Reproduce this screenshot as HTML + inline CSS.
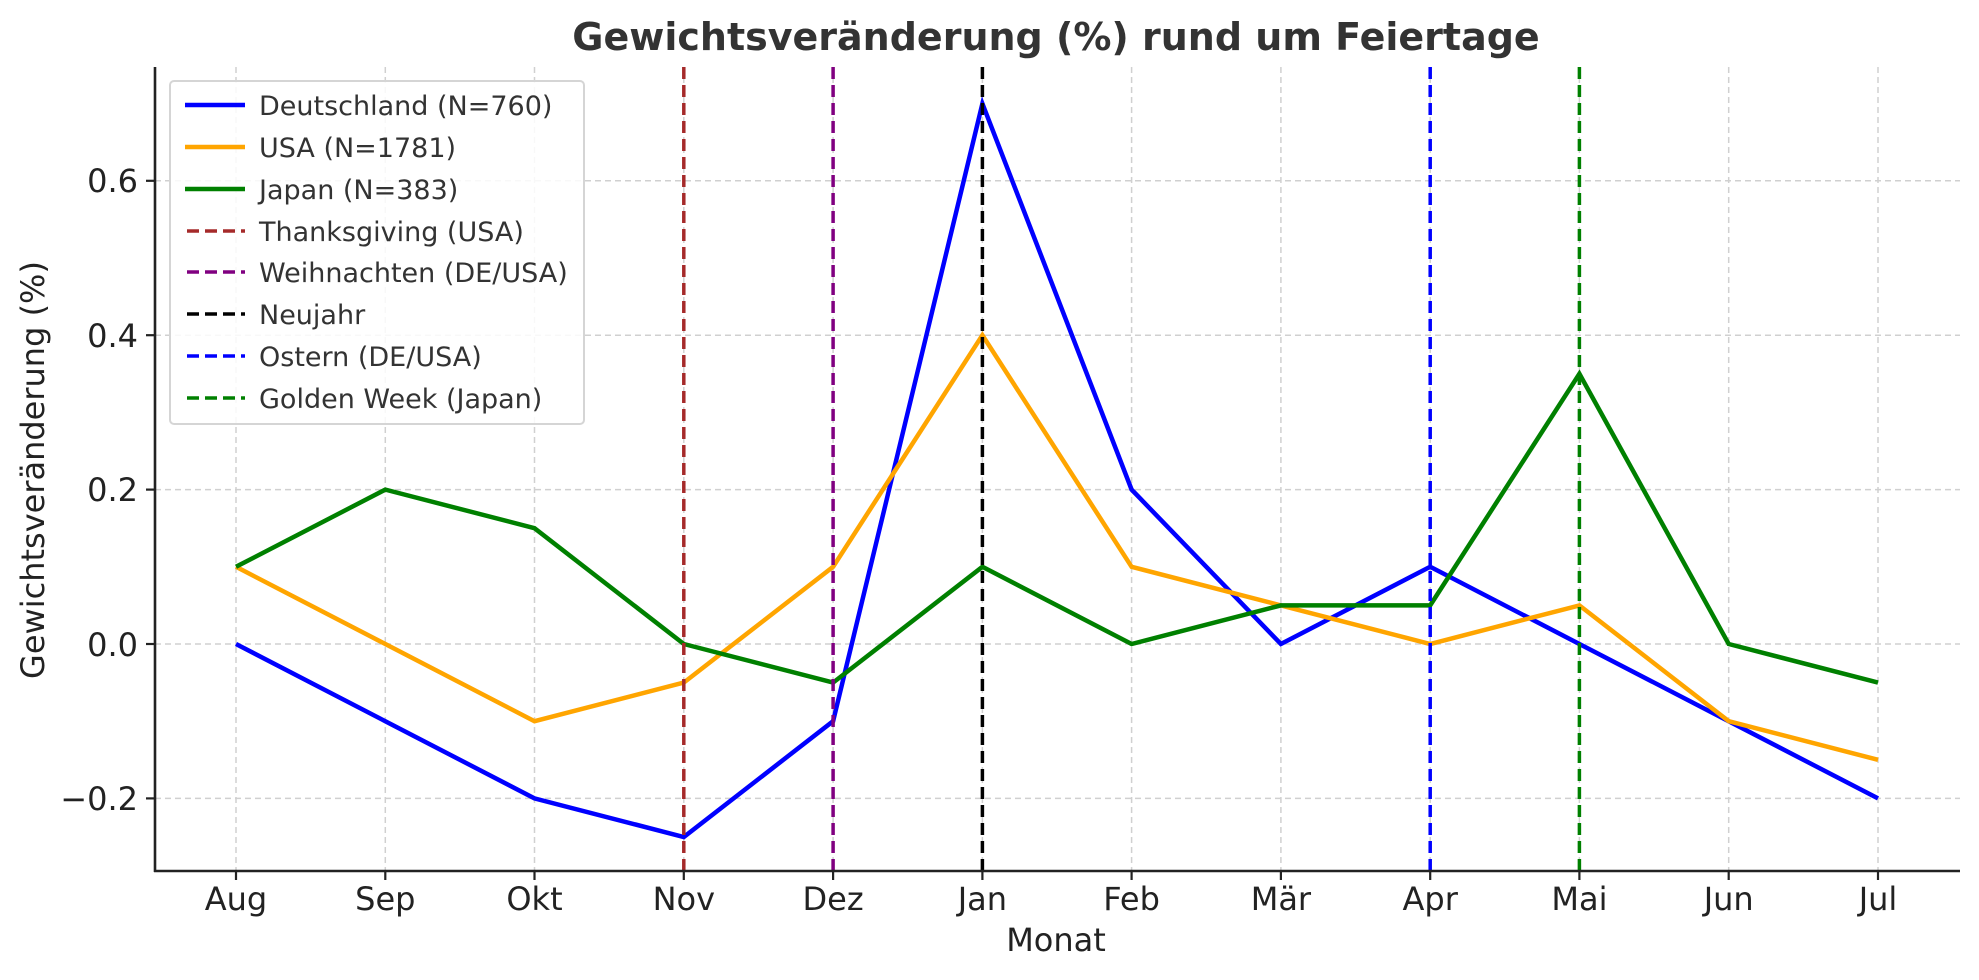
<!DOCTYPE html>
<html><head><meta charset="utf-8"><style>
html,body{margin:0;padding:0;background:#fff;}
svg{display:block;font-family:"DejaVu Sans","Liberation Sans",sans-serif;}
</style></head><body>
<svg width="1979" height="980" viewBox="0 0 1979 980" xmlns="http://www.w3.org/2000/svg">
<rect width="1979" height="980" fill="#fff"/>
<g stroke="#d0d0d0" stroke-width="1.5" stroke-dasharray="6,4">
<line x1="236" y1="67" x2="236" y2="871"/><line x1="385.3" y1="67" x2="385.3" y2="871"/><line x1="534.5" y1="67" x2="534.5" y2="871"/><line x1="683.8" y1="67" x2="683.8" y2="871"/><line x1="833.1" y1="67" x2="833.1" y2="871"/><line x1="982.4" y1="67" x2="982.4" y2="871"/><line x1="1131.6" y1="67" x2="1131.6" y2="871"/><line x1="1280.9" y1="67" x2="1280.9" y2="871"/><line x1="1430.2" y1="67" x2="1430.2" y2="871"/><line x1="1579.4" y1="67" x2="1579.4" y2="871"/><line x1="1728.7" y1="67" x2="1728.7" y2="871"/><line x1="1878" y1="67" x2="1878" y2="871"/>
<line x1="155" y1="798.4" x2="1960" y2="798.4"/><line x1="155" y1="644" x2="1960" y2="644"/><line x1="155" y1="489.6" x2="1960" y2="489.6"/><line x1="155" y1="335.2" x2="1960" y2="335.2"/><line x1="155" y1="180.8" x2="1960" y2="180.8"/>
</g>
<g fill="none" stroke-width="4.5" stroke-linejoin="miter">
<polyline stroke="#0000ff" points="236,644 385.3,721.2 534.5,798.4 683.8,837 833.1,721.2 982.4,103.6 1131.6,489.6 1280.9,644 1430.2,566.8 1579.4,644 1728.7,721.2 1878,798.4"/>
<polyline stroke="#ffa500" points="236,566.8 385.3,644 534.5,721.2 683.8,682.6 833.1,566.8 982.4,335.2 1131.6,566.8 1280.9,605.4 1430.2,644 1579.4,605.4 1728.7,721.2 1878,759.8"/>
<polyline stroke="#008000" points="236,566.8 385.3,489.6 534.5,528.2 683.8,644 833.1,682.6 982.4,566.8 1131.6,644 1280.9,605.4 1430.2,605.4 1579.4,373.8 1728.7,644 1878,682.6"/>
</g>
<g stroke-width="3.5" stroke-dasharray="12,6">
<line x1="683.8" y1="67" x2="683.8" y2="871" stroke="#a52a2a"/>
<line x1="833.1" y1="67" x2="833.1" y2="871" stroke="#800080"/>
<line x1="982.4" y1="67" x2="982.4" y2="871" stroke="#000"/>
<line x1="1430.2" y1="67" x2="1430.2" y2="871" stroke="#0000ff"/>
<line x1="1579.4" y1="67" x2="1579.4" y2="871" stroke="#008000"/>
</g>
<g stroke="#222" stroke-width="2.6">
<line x1="155" y1="67" x2="155" y2="872"/><line x1="154" y1="871" x2="1960" y2="871"/>
</g>
<g stroke="#222" stroke-width="2.2">
<line x1="146" y1="798.4" x2="155" y2="798.4"/><line x1="146" y1="644" x2="155" y2="644"/><line x1="146" y1="489.6" x2="155" y2="489.6"/><line x1="146" y1="335.2" x2="155" y2="335.2"/><line x1="146" y1="180.8" x2="155" y2="180.8"/>
<line x1="236" y1="871" x2="236" y2="880"/><line x1="385.3" y1="871" x2="385.3" y2="880"/><line x1="534.5" y1="871" x2="534.5" y2="880"/><line x1="683.8" y1="871" x2="683.8" y2="880"/><line x1="833.1" y1="871" x2="833.1" y2="880"/><line x1="982.4" y1="871" x2="982.4" y2="880"/><line x1="1131.6" y1="871" x2="1131.6" y2="880"/><line x1="1280.9" y1="871" x2="1280.9" y2="880"/><line x1="1430.2" y1="871" x2="1430.2" y2="880"/><line x1="1579.4" y1="871" x2="1579.4" y2="880"/><line x1="1728.7" y1="871" x2="1728.7" y2="880"/><line x1="1878" y1="871" x2="1878" y2="880"/>
</g>
<g fill="#222" font-size="32" text-anchor="end">
<text x="138" y="810">−0.2</text><text x="138" y="656">0.0</text><text x="138" y="501">0.2</text><text x="138" y="347">0.4</text><text x="138" y="192">0.6</text>
</g>
<g fill="#222" font-size="32" text-anchor="middle">
<text x="236" y="910">Aug</text><text x="385.3" y="910">Sep</text><text x="534.5" y="910">Okt</text><text x="683.8" y="910">Nov</text><text x="833.1" y="910">Dez</text><text x="982.4" y="910">Jan</text><text x="1131.6" y="910">Feb</text><text x="1280.9" y="910">Mär</text><text x="1430.2" y="910">Apr</text><text x="1579.4" y="910">Mai</text><text x="1728.7" y="910">Jun</text><text x="1878" y="910">Jul</text>
<text x="1056" y="951">Monat</text>
<text x="1056" y="50" font-weight="bold" font-size="38" fill="#333">Gewichtsveränderung (%) rund um Feiertage</text>
<text transform="translate(44,470) rotate(-90)">Gewichtsveränderung (%)</text>
</g>
<rect x="170" y="81" width="414" height="343" rx="4" fill="#fff" fill-opacity="0.85" stroke="#d5d5d5" stroke-width="2"/>
<g stroke-width="4.5">
<line x1="185" y1="105" x2="245" y2="105" stroke="#0000ff"/>
<line x1="185" y1="147" x2="245" y2="147" stroke="#ffa500"/>
<line x1="185" y1="189" x2="245" y2="189" stroke="#008000"/>
</g>
<g stroke-width="3.5" stroke-dasharray="12,6">
<line x1="187" y1="231" x2="245" y2="231" stroke="#a52a2a"/>
<line x1="187" y1="272" x2="245" y2="272" stroke="#800080"/>
<line x1="187" y1="314" x2="245" y2="314" stroke="#000"/>
<line x1="187" y1="356" x2="245" y2="356" stroke="#0000ff"/>
<line x1="187" y1="398" x2="245" y2="398" stroke="#008000"/>
</g>
<g fill="#333" font-size="27">
<text x="259" y="115">Deutschland (N=760)</text>
<text x="259" y="157">USA (N=1781)</text>
<text x="259" y="199">Japan (N=383)</text>
<text x="259" y="241">Thanksgiving (USA)</text>
<text x="259" y="282">Weihnachten (DE/USA)</text>
<text x="259" y="324">Neujahr</text>
<text x="259" y="366">Ostern (DE/USA)</text>
<text x="259" y="408">Golden Week (Japan)</text>
</g>
</svg>
</body></html>
